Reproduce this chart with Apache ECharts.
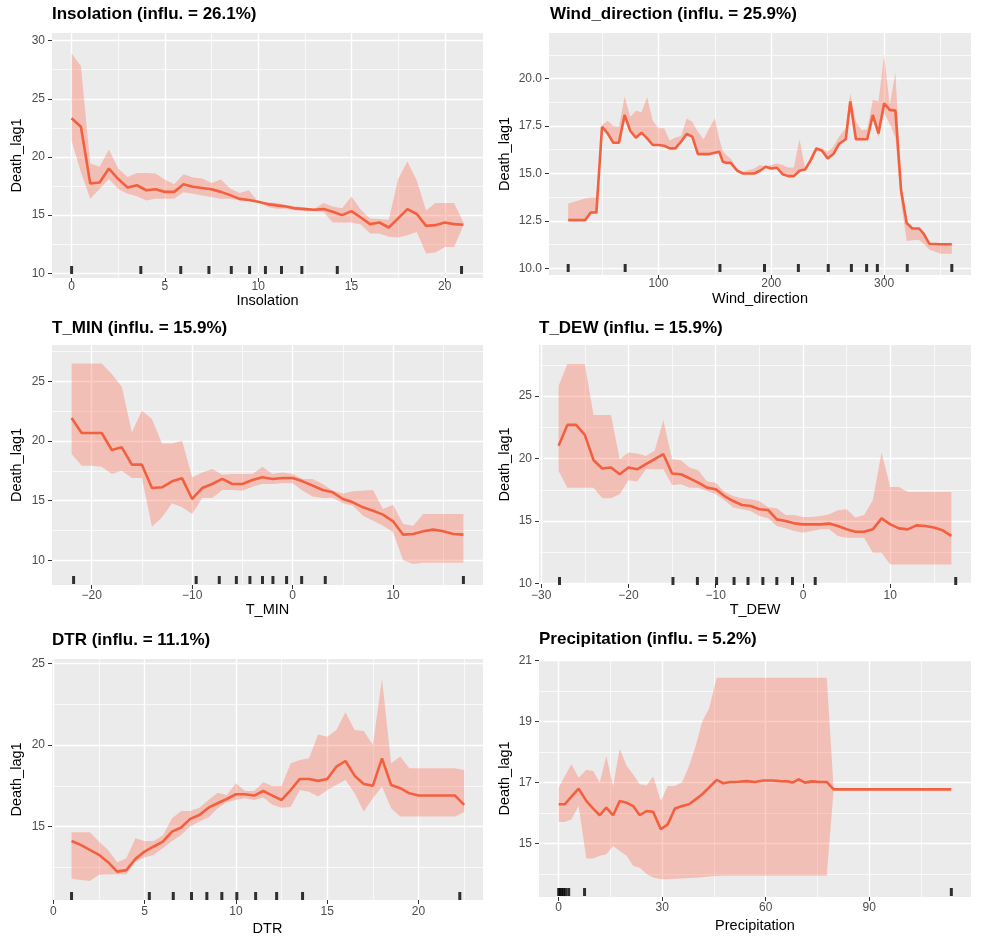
<!DOCTYPE html>
<html>
<head>
<meta charset="utf-8">
<title>Partial dependence plots</title>
<script src="https://cdn.jsdelivr.net/npm/echarts@6.0.0/dist/echarts.min.js"></script>
<style>
  html, body { margin: 0; padding: 0; background: #fff; }
  #chart { width: 981px; height: 944px; }
</style>
</head>
<body>
<div id="chart"></div>
<script>
// ---- values ----
// Insolation
var insoX   = [0,0.5,1,1.5,2,2.5,3,3.5,4,4.5,5,5.5,6,6.5,7,7.5,8,8.5,9,9.5,10,10.5,11,11.5,12,12.5,13,13.5,14,14.5,15,15.5,16,16.5,17,17.5,18,18.5,19,19.5,20,20.5,21];
var insoFit = [23.33,22.6,17.72,17.8,19.0,18.1,17.38,17.57,17.14,17.22,17.0,17.0,17.65,17.44,17.33,17.22,17.0,16.72,16.4,16.3,16.15,15.95,15.84,15.75,15.58,15.52,15.46,15.52,15.3,15.0,15.35,14.8,14.23,14.37,13.94,14.72,15.52,15.1,14.08,14.14,14.37,14.23,14.17];
var insoHi  = [28.9,27.8,19.43,19.15,20.64,19.0,18.28,18.63,18.63,18.57,18.06,17.66,18.51,18.23,18.14,17.77,18.06,17.28,16.9,17.14,16.15,16.1,16.04,15.87,15.75,15.67,15.52,16.04,15.75,15.6,16.6,15.46,14.72,14.66,14.6,18.1,19.6,17.97,15.4,16.04,16.04,16.04,14.37];
var insoLo  = [21.39,18.68,16.4,17.25,18.1,17.25,16.83,16.63,16.26,16.4,16.4,16.4,16.97,16.83,16.69,16.55,16.4,16.4,16.26,16.26,16.12,15.7,15.55,15.55,15.4,15.4,15.33,15.27,14.36,14.36,14.36,14.19,13.42,13.42,13.14,13.08,13.28,13.56,11.7,11.8,12.27,12.27,14.1];
var insoRug = [0,3.71,5.85,7.36,8.56,9.54,10.39,11.25,12.34,14.24,20.9];
var insoXTicks = [0,5,10,15,20];
var insoYTicks = [10,15,20,25,30];

// Wind_direction
var windX   = [20,35,40,45,50,55,60,65,70,75,80,85,90,95,100,105,110,115,120,125,130,135,140,145,150,154,157,160,164,170,175,185,190,195,200,205,210,215,220,225,230,235,240,245,250,255,260,266,270,275,280,285,290,295,300,305,310,315,320,325,331,335,340,350,360];
var windFit = [12.54,12.54,12.94,12.94,17.46,17.11,16.62,16.62,18.08,17.25,16.88,17.15,16.85,16.5,16.5,16.46,16.32,16.32,16.67,17.08,16.94,16.02,16.02,16.02,16.09,16.14,15.62,15.56,15.56,15.14,15.0,15.0,15.14,15.35,15.26,15.3,14.96,14.86,14.86,15.14,15.21,15.7,16.32,16.2,15.79,16.02,16.55,16.8,18.79,16.8,16.8,16.8,18.08,17.11,18.7,18.35,18.31,14.12,12.39,12.1,12.1,11.83,11.3,11.27,11.27];
var windHi  = [13.42,13.68,13.73,13.73,17.55,17.78,17.5,17.46,19.05,17.99,18.31,18.22,19.01,17.78,17.38,17.38,16.73,16.9,16.97,17.9,17.73,17.2,16.8,17.38,17.9,16.8,16.2,15.97,15.79,15.18,15.09,15.26,15.44,15.35,15.44,15.53,15.44,15.32,15.32,16.8,15.26,15.88,16.37,16.32,16.14,16.41,16.94,17.38,19.23,17.73,17.29,17.32,18.87,18.79,21.25,18.61,20.32,14.6,12.39,12.1,12.1,11.83,11.34,11.27,11.27];
var windLo  = [12.54,12.54,12.94,12.94,17.46,17.0,16.62,16.62,17.8,17.25,16.88,17.15,16.85,16.5,16.5,16.46,16.32,16.32,16.67,17.08,16.94,16.02,16.02,16.02,16.09,16.14,15.62,15.56,15.56,15.14,15.0,15.0,15.14,15.3,15.26,15.3,14.96,14.86,14.86,15.14,15.21,15.7,16.32,16.2,15.79,16.02,16.55,16.8,18.5,16.8,16.8,16.8,17.9,16.9,18.2,17.6,16.9,13.5,11.44,11.48,11.51,11.3,10.99,10.77,10.77];
var windRug = [20,70.5,154.5,194,224,250.5,271,284.5,294,320.5,360];
var windXTicks = [100,200,300];
var windYTicks = [10,12.5,15,17.5,20];

// T_MIN
var tminX   = [-22,-21,-20,-19,-18,-17,-16,-15,-14,-13,-12,-11,-10,-9,-8,-7,-6,-5,-4,-3,-2,-1,0,1,2,3,4,5,6,7,8,9,10,11,12,13,14,15,16,17];
var tminFit = [21.93,20.67,20.67,20.67,19.25,19.47,18.02,18.02,16.06,16.12,16.62,16.87,15.14,16.06,16.4,16.82,16.4,16.4,16.73,16.96,16.82,16.9,16.9,16.62,16.26,15.89,15.7,15.14,14.86,14.44,14.16,13.83,13.27,12.15,12.21,12.43,12.57,12.43,12.21,12.15];
var tminHi  = [26.5,26.5,26.5,26.5,25.61,24.55,20.73,22.54,21.84,19.8,19.8,20.03,16.96,17.37,17.65,17.18,17.23,17.23,17.23,17.85,17.23,17.37,17.23,16.82,16.82,16.4,15.84,15.61,15.78,15.84,15.89,14.3,14.66,13.04,12.9,13.88,13.88,13.88,13.88,13.88];
var tminLo  = [18.91,17.93,17.93,17.85,17.23,17.51,16.9,16.9,12.82,13.6,14.78,14.44,13.88,15.22,15.22,15.89,15.89,15.84,16.17,16.4,16.4,16.45,16.45,15.84,15.34,15.22,15.22,14.78,14.58,13.74,13.32,12.9,12.35,10.0,9.7,9.8,9.8,9.8,9.8,9.8];
var tminRug = [-21.8,-9.6,-7.3,-5.6,-4.25,-3.0,-1.96,-0.6,0.9,3.25,17.0];
var tminXTicks = [-20,-10,0,10];
var tminYTicks = [10,15,20,25];

// T_DEW
var tdewX   = [-28,-27,-26,-25,-24,-23,-22,-21,-20,-19,-18,-17,-16,-15,-14,-13,-12,-11,-10,-9,-8,-7,-6,-5,-4,-3,-2,-1,0,1,2,3,4,5,6,7,8,9,10,11,12,13,14,15,16,17];
var tdewFit = [21.02,22.7,22.7,21.9,19.87,19.2,19.28,18.74,19.28,19.14,19.55,19.95,20.35,18.8,18.74,18.42,18.07,17.67,17.54,17.0,16.6,16.28,16.2,15.94,15.88,15.13,15.0,14.81,14.73,14.73,14.73,14.79,14.6,14.33,14.14,14.14,14.33,15.21,14.73,14.41,14.33,14.65,14.6,14.47,14.25,13.8];
var tdewHi  = [25.83,27.57,27.57,27.57,23.5,23.5,23.5,19.95,20.48,20.4,20.21,20.62,23.07,19.95,19.87,19.28,19.06,18.16,18.07,17.35,17.0,16.82,16.74,16.6,16.1,16.02,15.48,15.48,15.32,15.32,15.4,15.53,15.86,15.94,15.27,15.48,16.66,20.48,17.73,17.73,17.33,17.33,17.33,17.33,17.33,17.33];
var tdewLo  = [19.0,17.67,17.67,17.67,17.67,16.82,16.82,17.14,18.26,18.16,19.14,19.14,19.14,17.89,17.94,17.67,17.67,17.4,17.14,16.66,16.07,15.94,15.8,15.4,15.21,14.6,14.41,14.2,14.06,14.2,14.33,14.33,13.8,13.66,13.66,13.66,12.46,12.46,11.52,11.52,11.52,11.52,11.52,11.52,11.52,11.52];
var tdewRug = [-27.9,-14.9,-12.1,-9.9,-7.9,-6.3,-4.6,-3.0,-1.2,1.4,17.5];
var tdewXTicks = [-30,-20,-10,0,10];
var tdewYTicks = [10,15,20,25];

// DTR
var dtrX   = [1,1.5,2,2.5,3,3.5,4,4.5,5,5.5,6,6.5,7,7.5,8,8.5,9,9.5,10,10.5,11,11.5,12,12.5,13,13.5,14,14.5,15,15.5,16,16.5,17,17.5,18,18.5,19,19.5,20,20.5,21,21.5,22,22.5];
var dtrFit = [14.12,13.88,13.57,13.27,12.82,12.24,12.33,13.02,13.47,13.78,14.08,14.69,14.94,15.47,15.71,16.16,16.43,16.69,16.98,16.98,16.9,17.18,16.9,16.63,17.24,17.92,17.92,17.8,17.92,18.67,19.02,18.12,17.61,17.51,19.18,17.55,17.35,17.04,16.9,16.9,16.9,16.9,16.9,16.33];
var dtrHi  = [14.65,14.65,14.65,14.08,13.57,12.82,13.06,14.29,14.12,14.12,14.45,15.51,15.96,15.96,16.16,16.63,17.08,16.94,17.65,17.18,17.18,17.71,17.49,17.49,18.88,19.08,19.18,20.65,20.51,20.92,22.0,20.92,20.86,20.0,24.04,18.88,19.29,18.57,18.57,18.57,18.57,18.57,18.57,18.47];
var dtrLo  = [11.8,11.73,11.67,12.04,12.08,12.08,12.08,12.86,13.1,13.27,13.67,14.12,14.49,15.0,15.31,15.55,16.12,16.49,16.63,16.73,16.63,16.78,16.33,16.16,16.2,17.24,17.14,16.84,17.24,17.55,17.86,17.04,15.92,16.73,17.45,16.12,15.61,15.61,15.61,15.61,15.61,15.61,15.61,15.9];
var dtrRug = [1.0,5.26,6.57,7.57,8.41,9.23,10.05,11.08,12.23,13.65,22.26];
var dtrXTicks = [0,5,10,15,20];
var dtrYTicks = [15,20,25];

// Precipitation
var precX   = [0,1.8,3.7,5.8,8,10,11.9,13.8,15.8,17.7,19.7,21.6,23.5,25.5,27.4,29.6,31.6,33.7,35.8,37.8,39.7,41.6,43.6,45.8,47.7,49.7,52.1,54.5,56.9,59.3,61.8,64.2,66.6,67.8,69.5,71.4,73.4,75.8,77.7,79.7,96.6,113.8];
var precFit = [16.29,16.29,16.54,16.8,16.4,16.15,15.93,16.18,15.93,16.4,16.34,16.23,15.93,16.07,16.04,15.47,15.63,16.15,16.23,16.29,16.45,16.62,16.84,17.09,16.98,17.02,17.03,17.05,17.02,17.07,17.07,17.05,17.04,17.0,17.11,17.0,17.04,17.02,17.02,16.78,16.78,16.78];
var precHi  = [16.84,17.22,17.6,17.16,17.42,17.38,17.0,17.87,16.89,18.11,17.55,17.27,16.95,16.91,17.2,16.4,16.89,16.89,17.02,17.55,18.2,19.0,19.43,20.44,20.44,20.44,20.44,20.44,20.44,20.44,20.44,20.44,20.44,20.44,20.44,20.44,20.44,20.44,20.44,16.78,16.78,16.78];
var precLo  = [15.71,15.71,15.8,16.23,14.51,14.51,14.6,14.65,14.92,14.76,14.6,14.27,14.21,14.0,13.89,13.83,13.83,13.85,13.86,13.87,13.88,13.9,13.92,13.94,13.95,13.95,13.95,13.95,13.95,13.95,13.95,13.95,13.95,13.95,13.95,13.95,13.95,13.95,13.95,16.78,16.78,16.78];
var precRug = [0,0.4,0.9,1.4,2.0,2.9,7.5,113.8];
var precXTicks = [0,30,60,90];
var precYTicks = [15,17,19,21];

// ---- layout & styling ----
var FONT = '"Liberation Sans", Arial, Helvetica, sans-serif';
var LINE_COLOR = '#F3603F';
var BAND_COLOR = 'rgba(255,99,71,0.32)';

var panels = [
  { title: 'Insolation (influ. = 26.1%)', xName: 'Insolation',
    x: insoX, fit: insoFit, lo: insoLo, hi: insoHi, rug: insoRug, xTicks: insoXTicks, yTicks: insoYTicks,
    rect: [52, 33, 431, 245], xr: [-1.05, 22.05], yr: [9.6, 30.65],
    titlePos: [52, 6], xLabMargin: 3, xNameGap: 15, yNameGap: 28, rugLift: 8 },
  { title: 'Wind_direction (influ. = 25.9%)', xName: 'Wind_direction', yDec: 1,
    x: windX, fit: windFit, lo: windLo, hi: windHi, rug: windRug, xTicks: windXTicks, yTicks: windYTicks,
    rect: [549, 33, 422, 242], xr: [3, 377], yr: [9.65, 22.4],
    titlePos: [550, 6], xLabMargin: 3, xNameGap: 16, yNameGap: 37, rugLift: 7 },
  { title: 'T_MIN (influ. = 15.9%)', xName: 'T_MIN',
    x: tminX, fit: tminFit, lo: tminLo, hi: tminHi, rug: tminRug, xTicks: tminXTicks, yTicks: tminYTicks,
    rect: [52, 345, 431, 240], xr: [-23.95, 18.95], yr: [7.93, 28.05],
    titlePos: [52, 320], xLabMargin: 5, xNameGap: 17, yNameGap: 28, rugLift: 5 },
  { title: 'T_DEW (influ. = 15.9%)', xName: 'T_DEW',
    x: tdewX, fit: tdewFit, lo: tdewLo, hi: tdewHi, rug: tdewRug, xTicks: tdewXTicks, yTicks: tdewYTicks,
    rect: [539, 345, 432, 239], xr: [-30.25, 19.25], yr: [9.95, 29.1],
    titlePos: [539, 320], xLabMargin: 6, xNameGap: 18, yNameGap: 27, rugLift: 3 },
  { title: 'DTR (influ. = 11.1%)', xName: 'DTR',
    x: dtrX, fit: dtrFit, lo: dtrLo, hi: dtrHi, rug: dtrRug, xTicks: dtrXTicks, yTicks: dtrYTicks,
    rect: [52, 659, 431, 241], xr: [-0.07, 23.53], yr: [10.5, 25.27],
    titlePos: [52, 632], xLabMargin: 6, xNameGap: 21, yNameGap: 28, rugLift: 4 },
  { title: 'Precipitation (influ. = 5.2%)', xName: 'Precipitation',
    x: precX, fit: precFit, lo: precLo, hi: precHi, rug: precRug, xTicks: precXTicks, yTicks: precYTicks,
    rect: [539, 660, 432, 237], xr: [-5.7, 119.5], yr: [13.25, 21.02],
    titlePos: [539, 631], xLabMargin: 5, xNameGap: 21, yNameGap: 27, rugLift: 5 }
];

// ggplot-style minor breaks: halfway between majors
function minorsOf(ticks, range) {
  var step = ticks[1] - ticks[0], out = [];
  for (var v = ticks[0] - step / 2; v <= ticks[ticks.length - 1] + step / 2 + 1e-9; v += step) {
    if (v >= range[0] && v <= range[1]) out.push(+v.toFixed(4));
  }
  return out;
}

function fmt(dec) {
  return function (v) {
    var s = dec ? Number(v).toFixed(dec) : String(v);
    return s.replace('-', '\u2212');
  };
}

function pairs(xs, ys) {
  return xs.map(function (x, i) { return [x, ys[i]]; });
}

var option = {
  backgroundColor: '#ffffff',
  animation: false,
  title: [], grid: [], xAxis: [], yAxis: [], series: []
};

panels.forEach(function (p, i) {
  option.title.push({
    text: p.title, left: p.titlePos[0], top: p.titlePos[1], padding: 0,
    textStyle: { fontFamily: FONT, fontSize: 17, fontWeight: 'bold', color: '#000' }
  });
  option.grid.push({
    left: p.rect[0], top: p.rect[1], width: p.rect[2], height: p.rect[3],
    show: true, backgroundColor: '#EBEBEB', borderWidth: 0,
    containLabel: false, outerBoundsMode: 'none'
  });

  // major x axis (labels, ticks, major grid)
  option.xAxis.push({
    type: 'value', gridIndex: i, min: p.xr[0], max: p.xr[1], position: 'bottom',
    axisLine: { show: false, onZero: false },
    axisTick: { show: true, length: 4, customValues: p.xTicks, lineStyle: { color: '#333333', width: 1 } },
    axisLabel: { customValues: p.xTicks, margin: p.xLabMargin, color: '#4D4D4D', fontSize: 12, fontFamily: FONT, formatter: fmt(0) },
    splitLine: { show: true, lineStyle: { color: '#ffffff', width: 1.4 } },
    name: p.xName, nameLocation: 'middle', nameGap: p.xNameGap,
    nameTextStyle: { fontFamily: FONT, fontSize: 14.5, color: '#000' }
  });
  // minor x grid
  option.xAxis.push({
    type: 'value', gridIndex: i, min: p.xr[0], max: p.xr[1],
    axisLine: { show: false, onZero: false },
    axisTick: { show: false, customValues: minorsOf(p.xTicks, p.xr) },
    axisLabel: { show: false },
    splitLine: { show: true, lineStyle: { color: '#ffffff', width: 0.7 } }
  });

  option.yAxis.push({
    type: 'value', gridIndex: i, min: p.yr[0], max: p.yr[1], position: 'left',
    axisLine: { show: false, onZero: false },
    axisTick: { show: true, length: 4, customValues: p.yTicks, lineStyle: { color: '#333333', width: 1 } },
    axisLabel: { customValues: p.yTicks, margin: 7, color: '#4D4D4D', fontSize: 12, fontFamily: FONT, formatter: fmt(p.yDec || 0) },
    splitLine: { show: true, lineStyle: { color: '#ffffff', width: 1.4 } },
    name: 'Death_lag1', nameLocation: 'middle', nameGap: p.yNameGap,
    nameTextStyle: { fontFamily: FONT, fontSize: 14.5, color: '#000' }
  });
  option.yAxis.push({
    type: 'value', gridIndex: i, min: p.yr[0], max: p.yr[1],
    axisLine: { show: false, onZero: false },
    axisTick: { show: false, customValues: minorsOf(p.yTicks, p.yr) },
    axisLabel: { show: false },
    splitLine: { show: true, lineStyle: { color: '#ffffff', width: 0.7 } }
  });

  var xi = 2 * i, yi = 2 * i;

  // confidence ribbon: one polygon, upper edge forward and lower edge back
  option.series.push({
    type: 'custom', xAxisIndex: xi, yAxisIndex: yi, silent: true, z: 2,
    data: p.x.map(function (x, k) { return [x, p.lo[k], p.hi[k]]; }),
    encode: { x: 0, y: [1, 2] },
    renderItem: function (params, api) {
      if (params.dataIndex !== 0) return null;
      var upper = [], lower = [];
      p.x.forEach(function (x, k) {
        upper.push(api.coord([x, p.hi[k]]));
        lower.unshift(api.coord([x, p.lo[k]]));
      });
      return {
        type: 'polygon',
        shape: { points: upper.concat(lower) },
        style: { fill: BAND_COLOR, stroke: null }
      };
    }
  });
  // fitted curve
  option.series.push({
    type: 'line', xAxisIndex: xi, yAxisIndex: yi,
    data: pairs(p.x, p.fit), showSymbol: false, symbol: 'none', silent: true,
    lineStyle: { color: LINE_COLOR, width: 2.6 }, z: 3
  });
  // rug (deciles) along the bottom
  option.series.push({
    type: 'scatter', xAxisIndex: xi, yAxisIndex: yi,
    data: p.rug.map(function (r) { return [r, p.yr[0]]; }),
    symbol: 'rect', symbolSize: [3, 8], symbolOffset: [0, -p.rugLift],
    itemStyle: { color: '#000000' }, silent: true, clip: false, z: 4
  });
});

var chart = echarts.init(document.getElementById('chart'));
chart.setOption(option);
window.onresize = function () { chart.resize(); };
</script>
</body>
</html>
